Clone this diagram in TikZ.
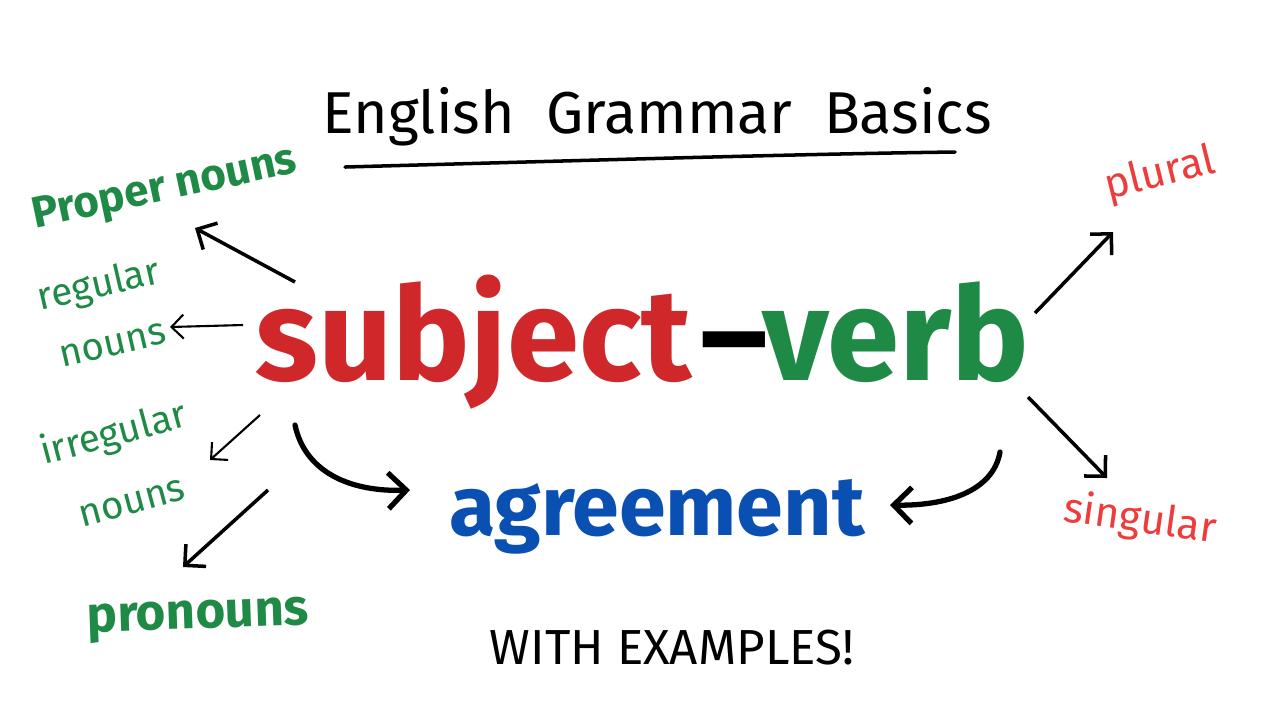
\documentclass[tikz,border=0pt]{standalone}
\usepackage{fontspec}
\setmainfont{Fira Sans}
\usetikzlibrary{arrows.meta}

\definecolor{nounGreen}{HTML}{1E8A46}
\definecolor{subjRed}{HTML}{D0282A}
\definecolor{numRed}{HTML}{EE3B3B}
\definecolor{agreeBlue}{HTML}{0A50B2}

\begin{document}
\begin{tikzpicture}[x=0.01cm,y=-0.01cm,
  word/.style={inner sep=0pt},
  noun/.style={word,text=nounGreen,align=center,font=\fontsize{11}{14}\selectfont},
  number/.style={word,text=numRed,font=\fontsize{12}{12}\selectfont},
  thinarrow/.style={line width=0.6pt,-{Straight Barb[length=1.2mm,width=2.4mm]}},
  midarrow/.style={line width=1pt,-{Straight Barb[length=1.5mm,width=3mm]}},
  bigarrow/.style={line width=1.5pt,line cap=round,-{Straight Barb[length=1.8mm,width=3.6mm]}}]
  \useasboundingbox (0,0) rectangle (1280,720);

  % title
  \node[word,font=\fontsize{16.8}{16.8}\selectfont] (title) at (657,117)
    {English\ \ Grammar\ \ Basics};
  \coordinate (ul1) at (345,167);
  \coordinate (ul2) at (955,152);
  \draw[line width=1pt,line cap=round] (ul1) .. controls (600,160) and (800,154) .. (ul2);

  % main words
  \node[word,text=subjRed,anchor=base west,font=\fontsize{37}{37}\bfseries]
    (subj) at (255,380) {subject};
  \node[word,anchor=base west,font=\fontsize{37}{37}\bfseries]
    (dash) at ([xshift=2pt]subj.base east) {–};
  \node[word,text=nounGreen,anchor=base west,font=\fontsize{37}{37}\bfseries]
    (verb) at ([xshift=-2pt]dash.base east) {verb};
  \node[word,text=agreeBlue,anchor=base,font=\fontsize{24}{24}\bfseries]
    (agree) at (657,535) {agreement};
  \node[word,font=\fontsize{14}{14}\selectfont] (examples) at (672,648)
    {WITH EXAMPLES!};

  % kinds of subject
  \node[noun,font=\fontsize{12.5}{12.5}\bfseries,rotate=12] (proper) at (165,190) {Proper nouns};
  \node[noun,rotate=13] (regular) at (105,312) {regular\\[3pt]nouns};
  \node[noun,rotate=15] (irregular) at (122,465) {irregular\\[6pt]nouns};
  \node[noun,font=\fontsize{14.5}{14.5}\bfseries,rotate=2] (pronouns) at (198,620) {pronouns};

  % kinds of verb
  \node[number,rotate=14] (plural) at (1160,175) {plural};
  \node[number,rotate=-8] (singular) at (1140,520) {singular};

  % arrow ends
  \coordinate (properA) at (295,282);  \coordinate (properB) at (195,228);
  \coordinate (regularA) at (243,325); \coordinate (regularB) at (170,327);
  \coordinate (irregA) at (260,415);   \coordinate (irregB) at (210,460);
  \coordinate (pronA) at (268,490);    \coordinate (pronB) at (183,567);
  \coordinate (leftA) at (295,425);    \coordinate (leftB) at (410,490);
  \coordinate (rightA) at (1000,452);  \coordinate (rightB) at (890,505);
  \coordinate (pluralA) at (1035,313); \coordinate (pluralB) at (1113,232);
  \coordinate (singA) at (1028,397);   \coordinate (singB) at (1107,478);

  \draw[midarrow] (properA) -- (properB);
  \draw[thinarrow] (regularA) -- (regularB);
  \draw[thinarrow] (irregA) -- (irregB);
  \draw[midarrow] (pronA) -- (pronB);
  \draw[midarrow] (pluralA) -- (pluralB);
  \draw[midarrow] (singA) -- (singB);
  \draw[bigarrow] (leftA) .. controls (305,472) and (350,492) .. (leftB);
  \draw[bigarrow] (rightA) .. controls (993,492) and (945,506) .. (rightB);
\end{tikzpicture}
\end{document}
